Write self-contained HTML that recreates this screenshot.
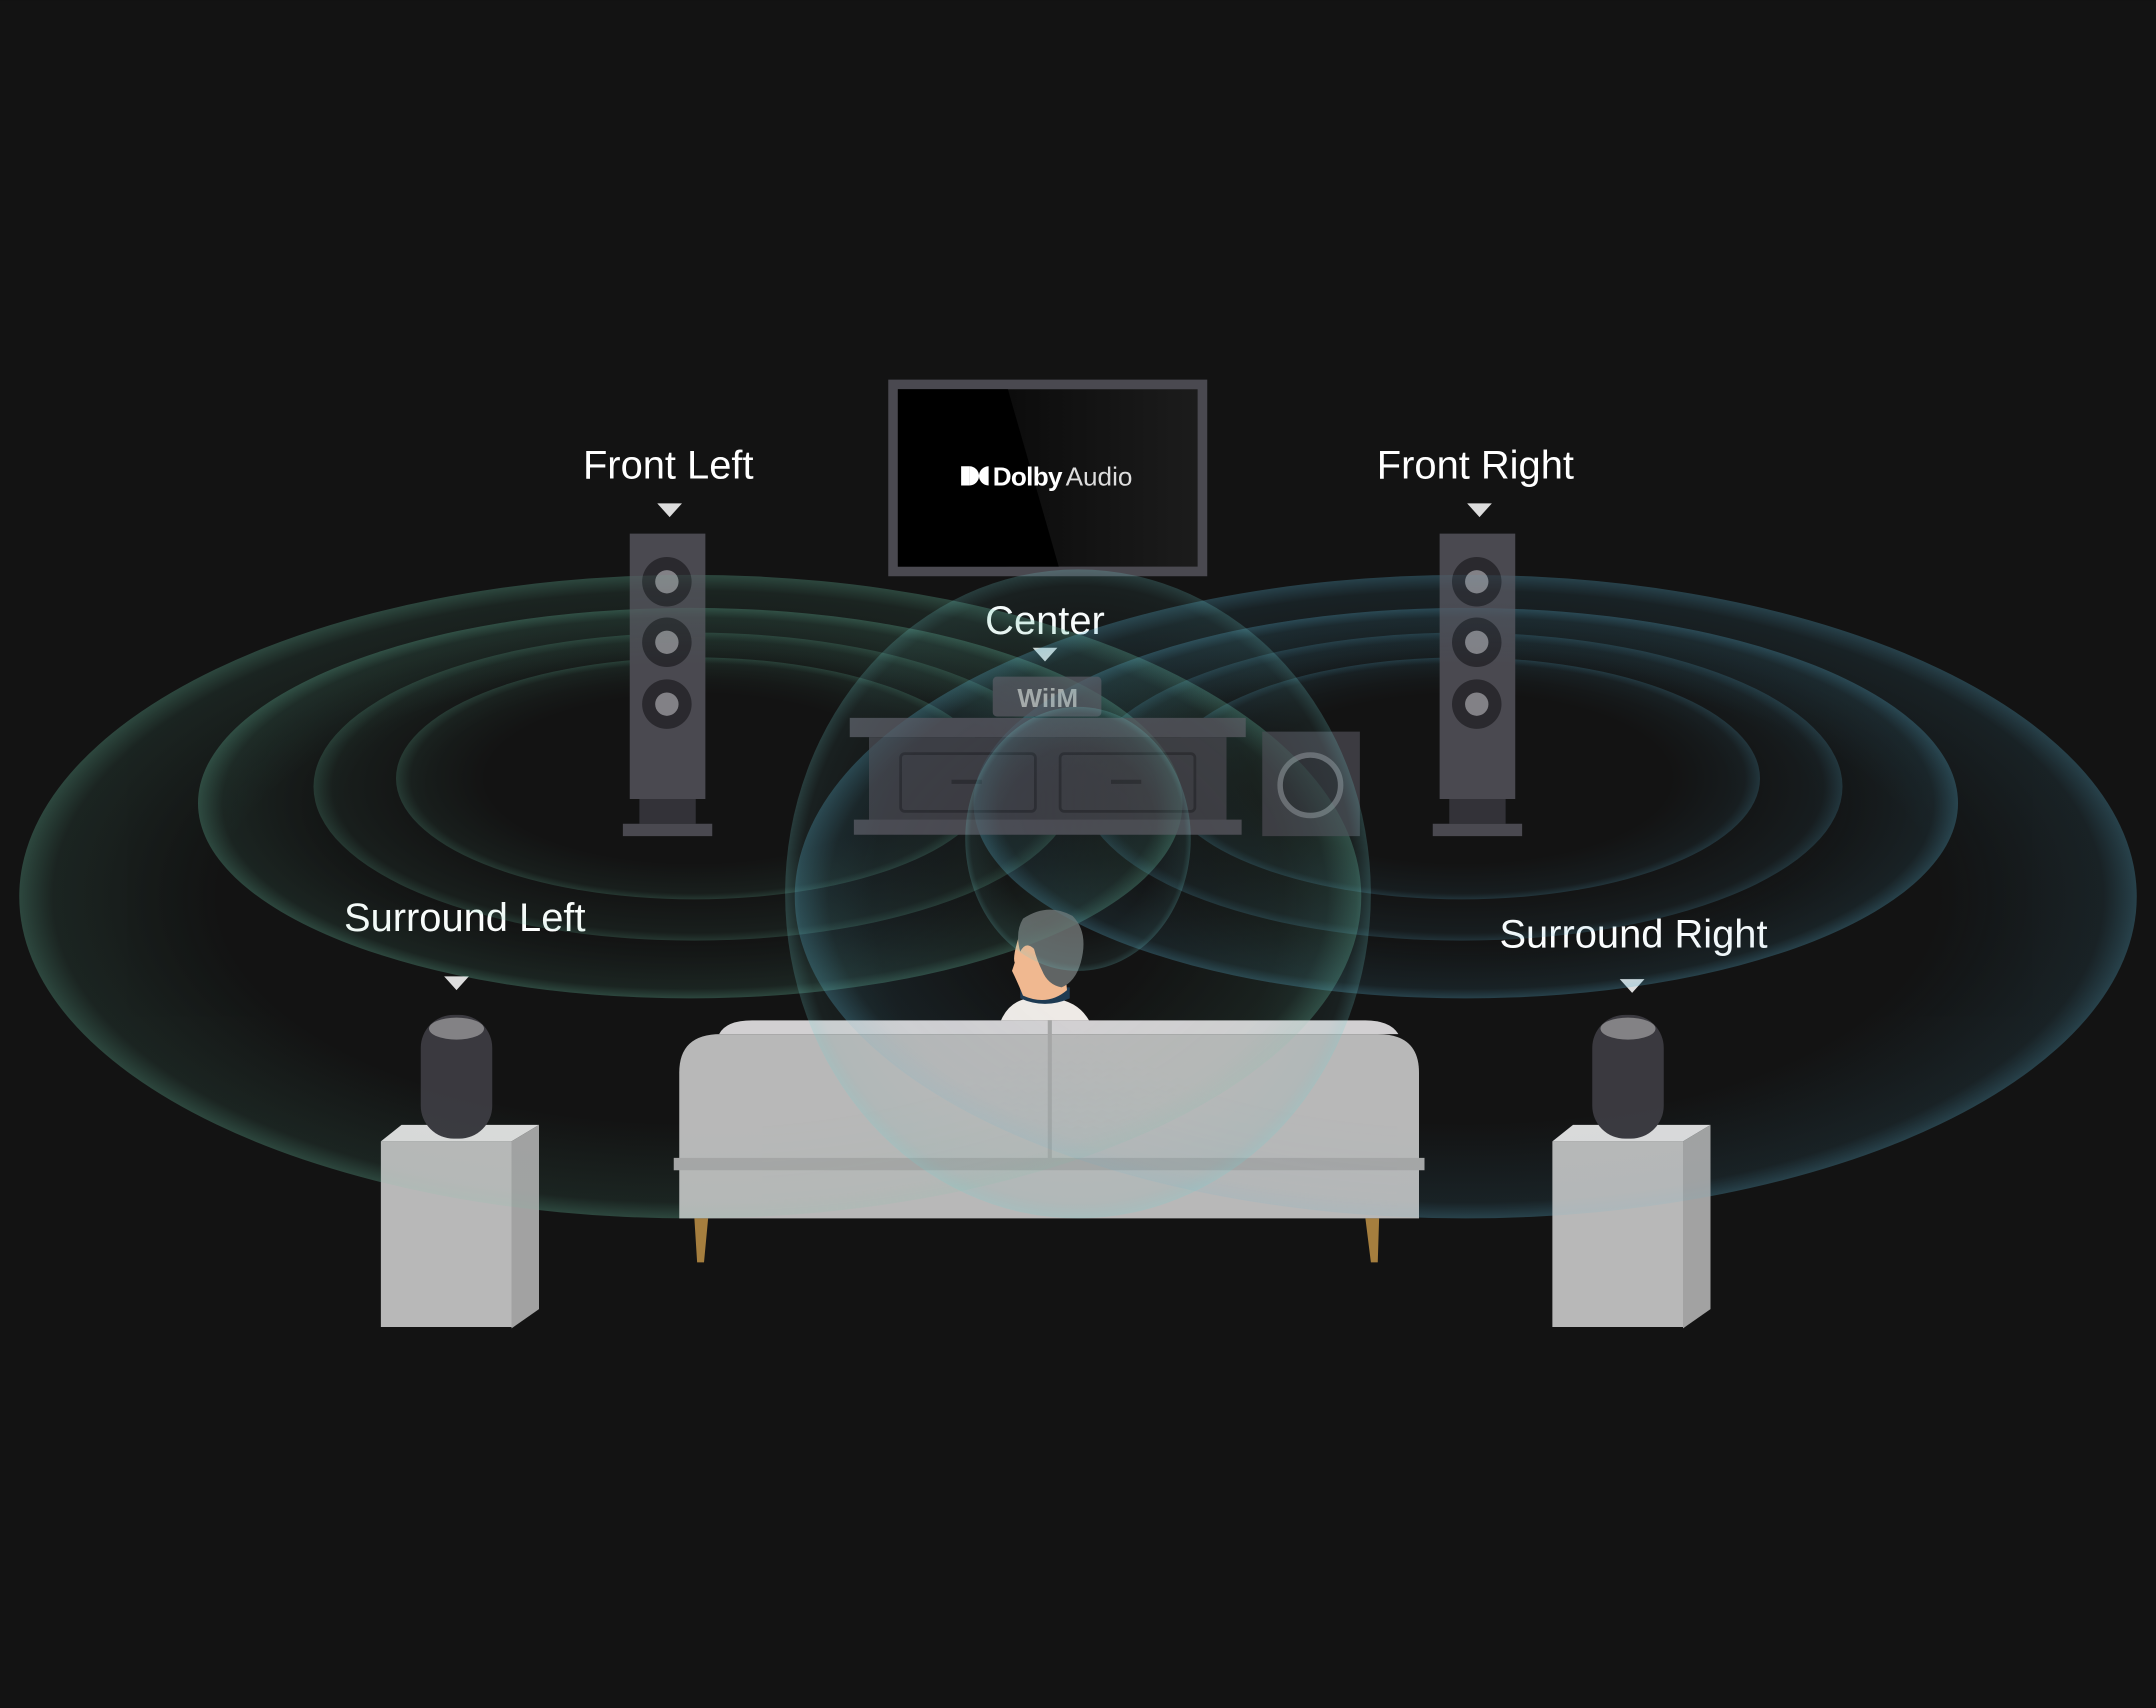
<!DOCTYPE html>
<html><head><meta charset="utf-8"><style>
html,body{margin:0;padding:0;background:#131313;}
svg{display:block}
text{font-family:"Liberation Sans",sans-serif;fill:#fff}
</style></head><body>
<svg width="2156" height="1708" viewBox="0 0 1568 1242" xmlns="http://www.w3.org/2000/svg">
<defs>
<radialGradient id="wg"><stop offset="0.7" stop-color="#5fb89a" stop-opacity="0"/><stop offset="0.95" stop-color="#5fb89a" stop-opacity="0.07"/><stop offset="1" stop-color="#6cc7a8" stop-opacity="0.2"/></radialGradient>
<radialGradient id="wb"><stop offset="0.7" stop-color="#4aa0c0" stop-opacity="0"/><stop offset="0.95" stop-color="#4aa0c0" stop-opacity="0.07"/><stop offset="1" stop-color="#5ab4d4" stop-opacity="0.2"/></radialGradient>
<radialGradient id="wc"><stop offset="0.7" stop-color="#60b8b8" stop-opacity="0"/><stop offset="0.95" stop-color="#60b8b8" stop-opacity="0.08"/><stop offset="1" stop-color="#70d0d0" stop-opacity="0.22"/></radialGradient>
<linearGradient id="tv" x1="0" y1="0" x2="1" y2="0"><stop offset="0" stop-color="#000"/><stop offset="0.36" stop-color="#000"/><stop offset="0.37" stop-color="#0c0c0c"/><stop offset="1" stop-color="#1c1c1c"/></linearGradient>
</defs>
<rect width="1568" height="1242" fill="#131313"/>

<!-- TV -->
<rect x="646" y="276" width="232" height="143" fill="#4a4950"/>
<rect x="653" y="283" width="218" height="129" fill="url(#tv)"/>
<polygon points="653,283 733,283 770,412 653,412" fill="#000"/>
<rect x="699" y="339" width="6" height="14" fill="#fff"/>
<path d="M705 339 a7 7 0 0 1 0 14z" fill="#fff"/>
<path d="M719 339 v14 a7 7 0 0 1 0 -14z" fill="#fff"/>
<text x="722" y="353" font-size="19" font-weight="bold" style="letter-spacing:-0.5px">Dolby</text>
<text x="775" y="353" font-size="19" style="fill:#ddd">Audio</text>

<!-- labels -->
<text x="486" y="348" font-size="29" text-anchor="middle">Front Left</text>
<text x="1073" y="348" font-size="29" text-anchor="middle">Front Right</text>
<text x="760" y="461" font-size="29" text-anchor="middle">Center</text>
<text x="338" y="677" font-size="29" text-anchor="middle">Surround Left</text>
<text x="1188" y="689" font-size="29" text-anchor="middle">Surround Right</text>
<g fill="#ddd">
<polygon points="478,366 496,366 487,376"/>
<polygon points="1067,366 1085,366 1076,376"/>
<polygon points="751,471 769,471 760,481"/>
<polygon points="323,710 341,710 332,720"/>
<polygon points="1178,712 1196,712 1187,722"/>
</g>

<!-- waves (behind objects partially) -->
<g>
<ellipse cx="502" cy="652" rx="488" ry="234" fill="url(#wg)"/>
<ellipse cx="502" cy="584" rx="358" ry="142" fill="url(#wg)"/>
<ellipse cx="505" cy="572" rx="277" ry="112" fill="url(#wg)"/>
<ellipse cx="505" cy="566" rx="217" ry="88" fill="url(#wg)"/>
<ellipse cx="1066" cy="652" rx="488" ry="234" fill="url(#wb)"/>
<ellipse cx="1066" cy="584" rx="358" ry="142" fill="url(#wb)"/>
<ellipse cx="1063" cy="572" rx="277" ry="112" fill="url(#wb)"/>
<ellipse cx="1063" cy="566" rx="217" ry="88" fill="url(#wb)"/>
</g>

<!-- front speakers -->
<g id="fs">
<rect x="458" y="388" width="55" height="193" fill="#4a4950"/>
<rect x="465" y="581" width="41" height="18" fill="#333238"/>
<rect x="453" y="599" width="65" height="9" fill="#4a4950"/>
<g fill="#2a292e"><circle cx="485" cy="423" r="18"/><circle cx="485" cy="467" r="18"/><circle cx="485" cy="512" r="18"/></g>
<g fill="#828186"><circle cx="485" cy="423" r="8.5"/><circle cx="485" cy="467" r="8.5"/><circle cx="485" cy="512" r="8.5"/></g>
</g>
<use href="#fs" x="589"/>

<!-- console -->
<rect x="722" y="492" width="79" height="29" rx="3" fill="#4a4950"/>
<text x="762" y="514" font-size="19" font-weight="bold" text-anchor="middle" style="fill:#aaa">WiiM</text>
<rect x="618" y="522" width="288" height="14" fill="#4a4950"/>
<rect x="632" y="536" width="260" height="62" fill="#3c3b41"/>
<rect x="621" y="596" width="282" height="11" fill="#4a4950"/>
<rect x="655" y="548" width="98" height="42" rx="3" fill="none" stroke="#2c2b30" stroke-width="2"/>
<rect x="771" y="548" width="98" height="42" rx="3" fill="none" stroke="#2c2b30" stroke-width="2"/>
<rect x="692" y="567" width="22" height="3" fill="#2c2b30"/><rect x="808" y="567" width="22" height="3" fill="#2c2b30"/>
<rect x="918" y="532" width="71" height="76" fill="#3c3b41"/>
<circle cx="953" cy="571" r="22" fill="#2c2b30" stroke="#6a6a70" stroke-width="4"/>

<!-- person -->
<path d="M728 742 q6 -14 20 -16 h18 q18 2 26 16z" fill="#eeeae6"/>
<path d="M742 726 q18 8 36 0 v-8 h-36z" fill="#1e3a52"/>
<path d="M742 678 q-6 18 -4 22 l-2 6 q4 8 8 18 q18 8 32 -4 l-4 -40z" fill="#f0b890"/>
<path d="M744 668 q18 -12 36 -2 q12 12 6 34 q-4 14 -14 18 q-10 -2 -14 -12 q-4 -8 -6 -16 q-6 -6 -10 2 q-4 -14 2 -24z" fill="#606464"/>

<!-- sofa -->
<path d="M523 752 q5 -10 24 -10 h446 q18 0 24 10z" fill="#d2d0d2"/>
<path d="M494 780 q0 -28 30 -28 h478 q30 0 30 28 v106 h-538z" fill="#b8b8b8"/>
<rect x="762" y="742" width="3" height="104" fill="#a6a6a6"/>
<rect x="490" y="842" width="546" height="9" fill="#a6a6a6"/>
<polygon points="505,886 515,886 512,918 507,918" fill="#a57e3e"/>
<polygon points="993,886 1003,886 1002,918 997,918" fill="#a57e3e"/>

<!-- surround pedestals -->
<g id="sp">
<polygon points="277,830 292,818 392,818 372,830" fill="#dadada"/>
<rect x="277" y="830" width="95" height="135" fill="#b8b8b8"/>
<polygon points="372,830 392,818 392,952 372,966" fill="#a2a2a2"/>
<rect x="306" y="738" width="52" height="90" rx="24" fill="#3a393f"/>
<ellipse cx="332" cy="748" rx="20" ry="8" fill="#838285"/>
</g>
<use href="#sp" x="852"/>

<!-- overlay waves on sofa/pedestals (lighter) -->
<g opacity="0.55">
<ellipse cx="502" cy="652" rx="488" ry="234" fill="url(#wg)"/>
<ellipse cx="1066" cy="652" rx="488" ry="234" fill="url(#wb)"/>
<ellipse cx="502" cy="584" rx="358" ry="142" fill="url(#wg)"/>
<ellipse cx="1066" cy="584" rx="358" ry="142" fill="url(#wb)"/>
</g>
<ellipse cx="784" cy="650" rx="213" ry="236" fill="url(#wc)"/>
<ellipse cx="784" cy="610" rx="82" ry="96" fill="url(#wc)"/>
</svg>
</body></html>
